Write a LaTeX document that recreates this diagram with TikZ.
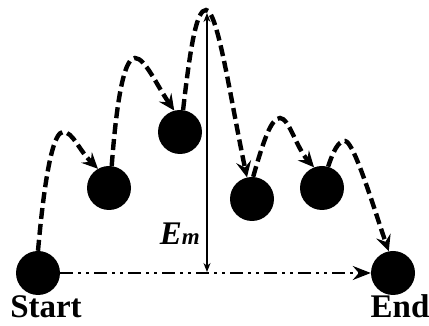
\documentclass[tikz,border=0pt]{standalone}
\usepackage{fontspec}
\setmainfont{Liberation Serif}
\usetikzlibrary{arrows.meta,positioning}

\begin{document}
\begin{tikzpicture}[x=1pt,y=1pt,
 ball/.style={circle, fill=black, minimum size=44pt, inner sep=0pt},
 hop/.style={dash pattern=on 11pt off 5pt, line width=4.4pt, -{Stealth[length=16pt,width=15pt,inset=6pt]}},
 floor/.style={dash pattern=on 13pt off 5pt on 3pt off 5pt on 3pt off 5pt, line width=2pt, -{Stealth[length=18pt,width=14pt,inset=6pt]}},
 barrier/.style={line width=1.3pt, {Stealth[length=9pt,width=7pt]}-{Stealth[length=9pt,width=7pt]}},
 lbl/.style={font=\fontsize{33}{36}\selectfont\bfseries, inner sep=0pt}]
\useasboundingbox (0,0) rectangle (429,326);
% states
\node[ball] (start) at (38,53) {};
\node[ball] (b1) at (109,138) {};
\node[ball] (b2) at (180,194) {};
\node[ball] (b3) at (252,127) {};
\node[ball] (b4) at (322,138) {};
\node[ball] (end) at (393,53) {};
% hops
\draw[hop] (start.north) .. controls +(8,90) and +(-8,0) .. (63,194)
  .. controls +(10,0) and +(-20,20) .. (b1.120);
\draw[hop] (b1.83) .. controls +(6,80) and +(-9,0) .. (135,268)
  .. controls +(10,0) and +(-18,26) .. (b2.105);
\draw[hop] (b2.82) .. controls +(8,70) and +(-9,0) .. (206,316)
  .. controls +(12,0) and +(-16,75) .. (b3.103);
\draw[hop] (b3.87) .. controls +(10,35) and +(-9,0) .. (280,208)
  .. controls +(9,0) and +(-18,20) .. (b4.111);
\draw[hop] (b4.74) .. controls +(5,15) and +(-7,0) .. (345,185)
  .. controls +(9,0) and +(-14,40) .. (end.101);
\draw[floor] (start.east) -- (end.west);
% barrier height
\coordinate (emtop) at (207,313);
\coordinate (embase) at (207,54);
\draw[barrier] (emtop) -- (embase);
\node[lbl, anchor=base east] (em) at (200,81) {\textit{E{\fontsize{23}{24}\selectfont m}}};
\node[lbl, anchor=base] (startlbl) at (46,8) {Start};
\node[lbl, anchor=base] (endlbl) at (400,8) {End};
\end{tikzpicture}
\end{document}
